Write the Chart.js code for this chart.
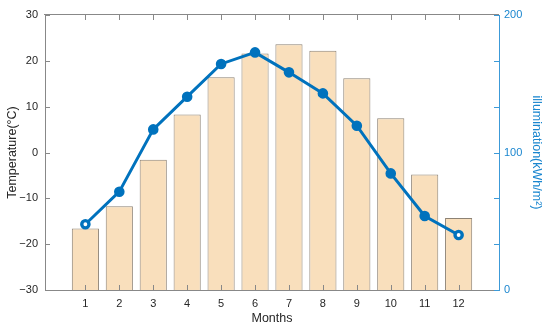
<!DOCTYPE html>
<html>
<head>
<meta charset="utf-8">
<script src="https://cdn.jsdelivr.net/npm/chart.js@4"></script>
<style>
  html, body { margin: 0; padding: 0; background: #fff; }
  canvas { display: block; }
</style>
</head>
<body>
<canvas id="grafico" width="550" height="329"></canvas>
<script>
// Dados
const meses = [1, 2, 3, 4, 5, 6, 7, 8, 9, 10, 11, 12];
const temperatura = [-16.6, -11.7, -1.6, 8.3, 16.4, 21.6, 23.6, 22.2, 16.2, 7.5, -4.8, -14.3];
const iluminacao = [47.8, 71.5, 116.8, 140.6, 164.4, 172.8, 158.3, 143.0, 119.5, 84.8, 53.8, 40.0];
const ticksTemperatura = [-30, -20, -10, 0, 10, 20, 30];
const ticksIluminacao = [0, 100, 200];

// Cores
const corEixo = '#888888';
const corTexto = '#262626';
const corAzul = '#0072bd';
const corEixoDireito = '#3c9ad8';
const fonte = '"Liberation Sans", Arial, sans-serif';

// Plugin para desenhar a linha de cima e as marcas para dentro (estilo MATLAB)
const eixos = {
  id: 'eixos',
  afterDraw(chart) {
    const { ctx, chartArea, scales: { x, y, y1 } } = chart;
    const l = Math.round(chartArea.left);
    const r = Math.round(chartArea.right);
    const t = Math.round(chartArea.top);
    const b = Math.round(chartArea.bottom);
    const tam = 5;
    ctx.save();
    ctx.fillStyle = corEixo;
    // linha do topo
    ctx.fillRect(l - 1, t - 1, r - l + 1, 1);
    // marcas do eixo x (base e topo)
    meses.forEach(m => {
      const px = Math.round(x.getPixelForValue(m));
      ctx.fillRect(px, b - tam, 1, tam);
      ctx.fillRect(px, t, 1, tam);
    });
    // marcas do eixo esquerdo
    ticksTemperatura.forEach(v => {
      const py = Math.round(y.getPixelForValue(v));
      ctx.fillRect(l, py, tam, 1);
    });
    // marcas do eixo direito em azul
    ctx.fillStyle = corEixoDireito;
    y1.ticks.forEach(tk => {
      const py = Math.round(y1.getPixelForValue(tk.value));
      ctx.fillRect(r - tam, py, tam, 1);
    });
    ctx.restore();
  }
};

const ctx = document.getElementById('grafico').getContext('2d');

const grafico = new Chart(ctx, {
  data: {
    datasets: [
      {
        type: 'line',
        label: 'illumination',
        data: meses.map((m, i) => ({ x: m, y: iluminacao[i] })),
        yAxisID: 'y1',
        borderColor: corAzul,
        borderWidth: 3,
        pointRadius: 3.6,
        pointBorderWidth: 3.4,
        pointBorderColor: corAzul,
        pointBackgroundColor: meses.map((m, i) => (i === 0 || i === meses.length - 1) ? '#ffffff' : corAzul),
        tension: 0,
        order: 0
      },
      {
        type: 'bar',
        label: 'Temperature',
        data: meses.map((m, i) => ({ x: m, y: temperatura[i] })),
        yAxisID: 'y',
        base: -30,
        backgroundColor: '#f9dfbc',
        borderColor: '#8d8274',
        borderWidth: 1,
        barPercentage: 0.8,
        categoryPercentage: 1,
        order: 1
      }
    ]
  },
  options: {
    responsive: false,
    animation: false,
    devicePixelRatio: 1,
    layout: { padding: { top: 15, left: 0, right: 0, bottom: 0 } },
    plugins: {
      legend: { display: false },
      tooltip: { enabled: false }
    },
    scales: {
      x: {
        type: 'linear',
        offset: false,
        min: -0.19,
        max: 13.19,
        afterBuildTicks: s => { s.ticks = meses.map(v => ({ value: v })); },
        afterFit: s => { s.height = 39; },
        grid: { display: false, drawTicks: false },
        border: { display: true, color: corEixo, width: 1 },
        ticks: {
          padding: 7,
          color: corTexto,
          font: { family: fonte, size: 11 },
          callback: v => String(v)
        },
        title: {
          display: true,
          text: 'Months',
          color: corTexto,
          font: { family: fonte, size: 12.5 },
          padding: { top: 0, bottom: 3 }
        }
      },
      y: {
        position: 'left',
        min: -30,
        max: 30,
        afterBuildTicks: s => { s.ticks = ticksTemperatura.map(v => ({ value: v })); },
        afterFit: s => { s.width = 45; },
        grid: { display: false, drawTicks: false },
        border: { display: true, color: corEixo, width: 1 },
        ticks: {
          padding: 7,
          color: corTexto,
          font: { family: fonte, size: 11 },
          callback: v => String(v).replace('-', '\u2212')
        },
        title: {
          display: true,
          text: 'Temperature(°C)',
          color: corTexto,
          font: { family: fonte, size: 12.5 },
          padding: { top: 5, bottom: 0 }
        }
      },
      y1: {
        position: 'right',
        min: 0,
        max: 200,
        // marcas alinhadas com o eixo esquerdo, rótulos só em 0, 100, 200
        afterBuildTicks: s => { s.ticks = [0, 1, 2, 3, 4, 5, 6].map(i => ({ value: i * 200 / 6 })); },
        afterFit: s => { s.width = 51; },
        grid: { display: false, drawTicks: false },
        border: { display: true, color: corEixoDireito, width: 1 },
        ticks: {
          padding: 5,
          color: '#1a86cf',
          font: { family: fonte, size: 11 },
          callback: v => {
            const r = ticksIluminacao.find(t => Math.abs(t - v) < 1e-6);
            return r === undefined ? '' : String(r);
          }
        },
        title: {
          display: true,
          text: 'illumination(kWh/m²)',
          color: '#1a86cf',
          font: { family: fonte, size: 12.5 },
          padding: { top: 6, bottom: 0 }
        }
      }
    }
  },
  plugins: [eixos]
});
</script>
</body>
</html>
